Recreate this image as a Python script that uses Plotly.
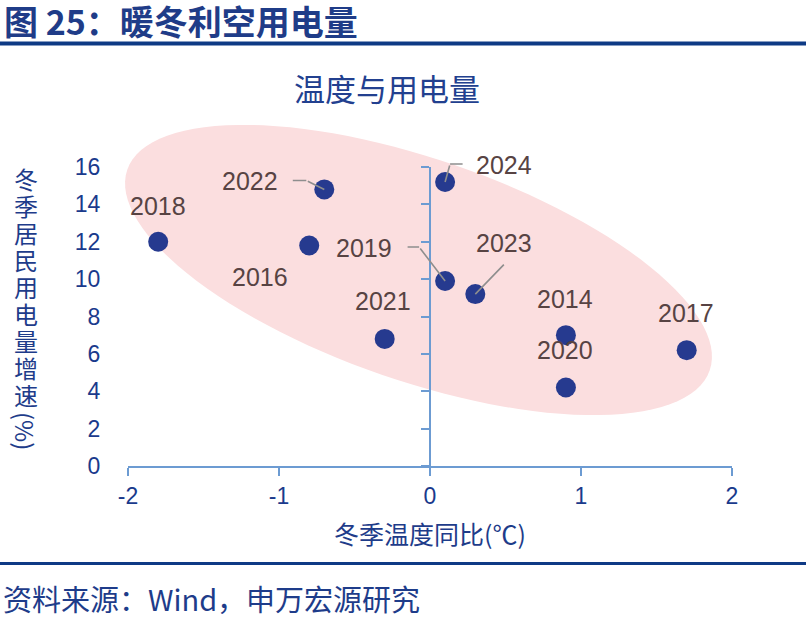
import numpy as np
import plotly.graph_objects as go

# ---------------- data ----------------
years = ["2018", "2022", "2016", "2021", "2024", "2019", "2023", "2014", "2020", "2017"]
temp_change = [-1.8, -0.7, -0.8, -0.3, 0.1, 0.1, 0.3, 0.9, 0.9, 1.7]      # 冬季温度同比(℃)
power_growth = [12.0, 14.8, 11.8, 6.8, 15.2, 9.9, 9.2, 7.0, 4.2, 6.2]     # 冬季居民用电量增速(%)
x_ticks = [-2, -1, 0, 1, 2]
x_ticktext = ["-2", "-1", "0", "1", "2"]
y_ticks = [0, 2, 4, 6, 8, 10, 12, 14, 16]

# ---------------- layout geometry (pixels) ----------------
W, H = 806, 620
L, R, T, B = 128, 74, 167, 154
PW, PH = W - L - R, H - T - B
XR = [-2, 2]
YR = [0, 16]

def pxx(X):
    return (X - L) / PW

def pxy(Y):
    return (H - B - Y) / PH

NAVY = "#1E3C8A"
AXIS = "#6C9BD2"
MARK = "#263A8F"
LAB = "#574343"
LEAD = "#8E8E8E"
CJK = "Noto Sans CJK SC"
LAT = "Liberation Sans, Arial"

fig = go.Figure()

fig.add_trace(go.Scatter(
    x=temp_change, y=power_growth, mode="markers",
    marker=dict(size=20, color=MARK),
    cliponaxis=False, showlegend=False, hoverinfo="skip",
))
# invisible trace to carry the crossing axis at x = 0
fig.add_trace(go.Scatter(x=[0], y=[0], yaxis="y2", mode="markers",
                         marker=dict(opacity=0), showlegend=False, hoverinfo="skip"))

# ---------------- highlight ellipse (pixel-space parameters) ----------------
cx, cy, a, b, th = 418.5, 270.0, 308.0, 111.0, np.deg2rad(19.0)
t = np.linspace(0, 2 * np.pi, 121)
EX = cx + a * np.cos(t) * np.cos(th) - b * np.sin(t) * np.sin(th)
EY = cy + a * np.cos(t) * np.sin(th) + b * np.sin(t) * np.cos(th)
path = "M " + " L ".join(f"{pxx(X):.5f},{pxy(Y):.5f}" for X, Y in zip(EX, EY)) + " Z"
shapes = [dict(type="path", path=path, xref="paper", yref="paper",
               fillcolor="#FBDEDF", line=dict(width=0), layer="below")]

# header and footer rules
shapes.append(dict(type="line", xref="paper", yref="paper", x0=pxx(0), x1=pxx(W),
                   y0=pxy(43.5), y1=pxy(43.5), line=dict(color="#0E3A85", width=4)))
shapes.append(dict(type="line", xref="paper", yref="paper", x0=pxx(0), x1=pxx(W),
                   y0=pxy(563.5), y1=pxy(563.5), line=dict(color="#0E3A85", width=3)))

# ---------------- labels ----------------
label_offsets = {  # text centre offset from point, pixels (dx right, dy down)
    "2018": (0, -36), "2022": (-74, -8), "2016": (-49, 32), "2021": (-2, -38),
    "2024": (59, -17), "2019": (-81, -33), "2023": (29, -51), "2014": (-1, -36),
    "2020": (-1, -38), "2017": (-1, -37),
}
ann = []
for yr, xv, yv in zip(years, temp_change, power_growth):
    dx, dy = label_offsets[yr]
    ann.append(dict(x=xv, y=yv, text=yr, showarrow=False, xshift=dx, yshift=-dy,
                    font=dict(family=LAT, size=25, color=LAB)))

# leader lines: list of segments (shift of segment end from point, tail offset)
leaders = {
    "2022": [((0, 0), (-18, -9)), ((-18, -9), (-15, 0))],
    "2024": [((0, 0), (5, -18)), ((5, -18), (14, 0))],
    "2019": [((0, 0), (-26, -34)), ((-26, -34), (-13, 0))],
    "2023": [((0, 0), (30, -31))],
}
for yr, segs in leaders.items():
    i = years.index(yr)
    for (sx, sy), (ax, ay) in segs:
        ann.append(dict(x=temp_change[i], y=power_growth[i], text="", showarrow=True,
                        arrowhead=0, arrowwidth=1.6, arrowcolor=LEAD,
                        ax=ax, ay=ay, xshift=sx, yshift=-sy, standoff=0, startstandoff=0))

# titles
ann.append(dict(xref="paper", yref="paper", x=pxx(2), y=pxy(20), xanchor="left", yanchor="middle",
                text="<b>图 25：暖冬利空用电量</b>", showarrow=False,
                font=dict(family=CJK, size=34, color="#1F3C88")))
ann.append(dict(xref="paper", yref="paper", x=pxx(387), y=pxy(88), xanchor="center", yanchor="middle",
                text="温度与用电量", showarrow=False, font=dict(family=CJK, size=31, color="#22408F")))
ann.append(dict(xref="paper", yref="paper", x=pxx(430), y=pxy(533), xanchor="center", yanchor="middle",
                text="冬季温度同比(℃)", showarrow=False, font=dict(family=CJK, size=25, color=NAVY)))
ann.append(dict(xref="paper", yref="paper", x=pxx(1), y=pxy(598), xanchor="left", yanchor="middle",
                text="资料来源：Wind，申万宏源研究", showarrow=False,
                font=dict(family=CJK, size=29, color=NAVY)))

# vertical y-axis title (upright stacked characters)
ytitle = "冬季居民用电量增速"
for k, ch in enumerate(ytitle):
    ann.append(dict(xref="paper", yref="paper", x=pxx(26), y=pxy(178 + 27.0 * k),
                    xanchor="center", yanchor="middle", text=ch, showarrow=False,
                    font=dict(family=CJK, size=24, color=NAVY)))
ann.append(dict(xref="paper", yref="paper", x=pxx(26), y=pxy(431), xanchor="center", yanchor="middle",
                text="(%)", textangle=90, showarrow=False, font=dict(family=CJK, size=24, color=NAVY)))

fig.update_layout(
    width=W, height=H, margin=dict(l=L, r=R, t=T, b=B),
    paper_bgcolor="white", plot_bgcolor="rgba(0,0,0,0)",
    shapes=shapes, annotations=ann,
    xaxis=dict(range=XR, tickvals=x_ticks, ticktext=x_ticktext, showgrid=False, zeroline=False,
               showline=True, linecolor=AXIS, linewidth=2, ticks="outside", ticklen=8,
               tickwidth=2, tickcolor=AXIS, tickfont=dict(family=LAT, size=23, color="#1A3A8C")),
    yaxis=dict(range=YR, tickvals=y_ticks, showgrid=False, zeroline=False, showline=False,
               ticks="outside", ticklen=22, tickcolor="rgba(0,0,0,0)",
               tickfont=dict(family=LAT, size=23, color="#1A3A8C")),
    yaxis2=dict(range=YR, tickvals=y_ticks, overlaying="y", anchor="free",
                position=(0 - XR[0]) / (XR[1] - XR[0]), side="left",
                showticklabels=False, showgrid=False, zeroline=False,
                showline=True, linecolor=AXIS, linewidth=2,
                ticks="outside", ticklen=8, tickwidth=2, tickcolor=AXIS),
)

fig.write_html("out.html")
